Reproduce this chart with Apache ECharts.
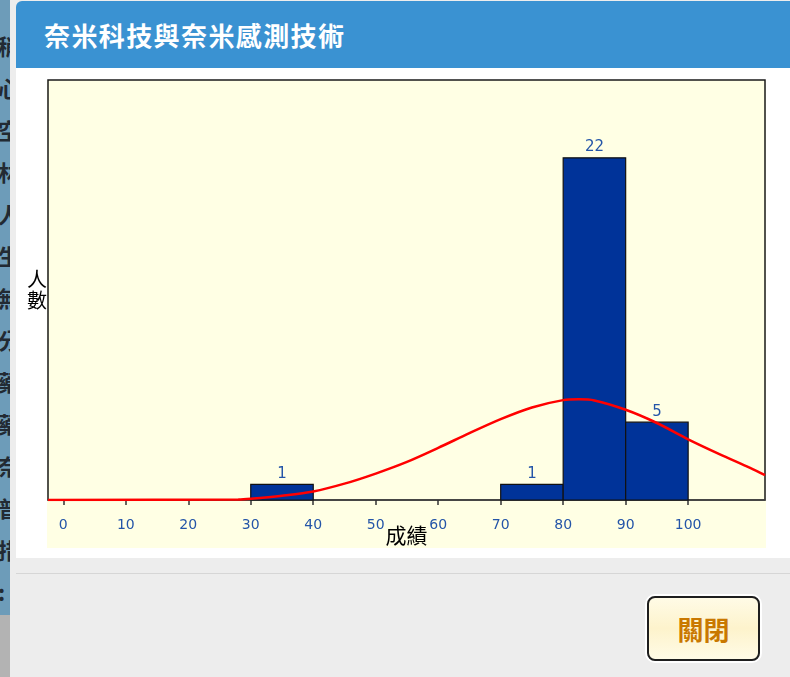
<!DOCTYPE html>
<html>
<head>
<meta charset="utf-8">
<script src="https://cdn.jsdelivr.net/npm/echarts@6/dist/echarts.min.js"></script>
<style>
  html, body { margin: 0; padding: 0; width: 790px; height: 677px; overflow: hidden; background: #ededed; }
  #page-bg { position: absolute; left: 0; top: 0; width: 10px; height: 615px; overflow: hidden;
    background: #6d9cb9; color: #222a33; font: bold 22px "Noto Sans CJK TC", sans-serif; line-height: 42px; }
  #page-bg div { white-space: nowrap; margin-left: -2px; }
  #page-bot { position: absolute; left: 0; top: 615px; width: 10px; height: 62px; background: #b3b3b3; }
  #modal { position: absolute; left: 10px; top: 0; width: 780px; height: 677px; background: #ededed; }
  #header { position: absolute; left: 16px; top: 1px; width: 774px; height: 67px; background: #3a92d2;
    border-radius: 6px 0 0 0; }
  #header span { position: absolute; left: 28px; top: 16px; color: #fff; font: bold 26px "Noto Sans CJK TC", sans-serif;
    line-height: 36px; letter-spacing: 1.4px; }
  #body { position: absolute; left: 16px; top: 68px; width: 774px; height: 490px; background: #fff; }
  #cream { position: absolute; left: 47px; top: 80px; width: 719px; height: 468px; background: #ffffe4; }
  #chart { position: absolute; left: 16px; top: 68px; width: 774px; height: 490px; }
  #sep { position: absolute; left: 16px; top: 573px; width: 774px; height: 1px; background: #d6d6d6; }
  #btn { position: absolute; left: 647px; top: 596px; width: 109px; height: 61px; border: 2px solid #1e1e1e;
    border-radius: 8px; box-shadow: 0 0 0 2px #fff;
    background: linear-gradient(#fffbe6 0%, #fdf3cc 50%, #fffbe6 100%);
    color: #c97800; font: bold 26px "Noto Sans CJK TC", sans-serif; text-align: center; line-height: 61px; }
</style>
</head>
<body>
<div id="page-bg"><div style="height:24px"></div><div>稍</div><div>心</div><div>空</div><div>林</div><div>人</div><div>生</div><div>無</div><div>分</div><div>藥</div><div>藥</div><div>奈</div><div>普</div><div>措</div><div>:</div></div>
<div id="page-bot"></div>
<div id="modal"></div>
<div id="header"><span>奈米科技與奈米感測技術</span></div>
<div id="body"></div>
<div id="cream"></div>
<div id="chart"></div>
<div id="sep"></div>
<div id="btn">關閉</div>
<script>
// histogram bins (score ranges) and head counts
const binStart = [30, 70, 80, 90]
const binEnd = [40, 80, 90, 100]
const counts = [1, 1, 22, 5]

// normal curve
const curveX = [-2.45, 28, 30, 35, 40, 45, 50, 55, 60, 65, 70, 75, 80, 82.5, 85, 90, 95, 100, 105, 110, 112.3]
const curveY = [0, 0.03, 0.08, 0.28, 0.55, 1.05, 1.7, 2.45, 3.35, 4.3, 5.2, 5.95, 6.42, 6.47, 6.4, 5.8, 4.95, 3.9, 2.95, 2.05, 1.6]

const xTicks = [0, 10, 20, 30, 40, 50, 60, 70, 80, 90, 100]

const LABEL_BLUE = '#2455a8'

const chart = echarts.init(document.getElementById('chart'))

const bins = binStart.map((s, i) => [s, binEnd[i], counts[i]])

chart.setOption({
  animation: false,
  backgroundColor: 'transparent',
  grid: {
    left: 32,
    right: 25,
    top: 12,
    bottom: 58,
    outerBoundsMode: 'none',
    containLabel: false,
    show: true,
    borderColor: '#1a1a1a',
    borderWidth: 1.5,
    backgroundColor: 'transparent'
  },
  xAxis: {
    type: 'value',
    min: -2.45,
    max: 112.3,
    name: '成績',
    nameLocation: 'middle',
    nameGap: 25,
    nameMoveOverlap: false,
    nameTextStyle: { color: '#000', fontSize: 21, fontFamily: 'Noto Sans CJK TC', verticalAlign: 'top' },
    axisLine: { show: true, onZero: false, lineStyle: { color: '#444', width: 1.5 } },
    axisTick: { show: true, length: 5, customValues: xTicks, lineStyle: { color: '#333', width: 1.5 } },
    axisLabel: {
      customValues: xTicks,
      color: LABEL_BLUE,
      fontSize: 14,
      fontFamily: 'DejaVu Sans',
      margin: 18
    },
    splitLine: { show: false }
  },
  yAxis: {
    type: 'value',
    min: 0,
    max: 27,
    name: '人\n數',
    nameLocation: 'middle',
    nameRotate: 0,
    nameGap: 1,
    nameMoveOverlap: false,
    nameTextStyle: { color: '#000', fontSize: 20, lineHeight: 21, fontFamily: 'Noto Sans CJK TC' },
    axisLine: { show: false },
    axisTick: { show: false },
    axisLabel: { show: false },
    splitLine: { show: false }
  },
  series: [
    {
      type: 'custom',
      data: bins,
      z: 2,
      renderItem: (params, api) => {
        const p0 = api.coord([api.value(0), 0])
        const p1 = api.coord([api.value(1), api.value(2)])
        return {
          type: 'group',
          children: [
            {
              type: 'rect',
              shape: { x: p0[0], y: p1[1], width: p1[0] - p0[0], height: p0[1] - p1[1] },
              style: { fill: '#003399', stroke: '#111', lineWidth: 1.2 }
            },
            {
              type: 'text',
              x: (p0[0] + p1[0]) / 2,
              y: p1[1] - 3,
              style: {
                text: String(api.value(2)),
                fill: LABEL_BLUE,
                font: '15px "DejaVu Sans"',
                align: 'center',
                verticalAlign: 'bottom'
              }
            }
          ]
        }
      }
    },
    {
      type: 'line',
      data: curveX.map((x, i) => [x, curveY[i]]),
      z: 5,
      smooth: 0.3,
      symbol: 'none',
      lineStyle: { color: '#ff0000', width: 2.5 }
    }
  ]
})
</script>
</body>
</html>
